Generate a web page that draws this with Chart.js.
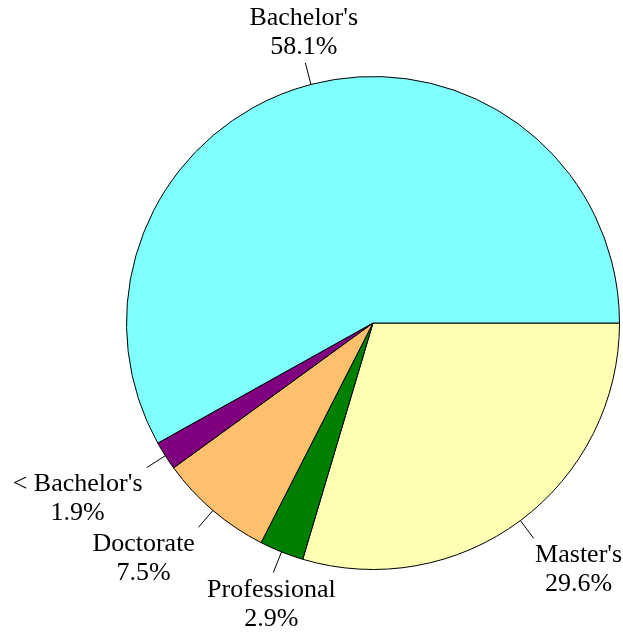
<!DOCTYPE html>
<html>
<head>
<meta charset="utf-8">
<script src="https://cdn.jsdelivr.net/npm/chart.js@4/dist/chart.umd.min.js"></script>
<style>
  html, body { margin: 0; padding: 0; background: #fff; }
  #wrap { width: 623px; height: 633px; }
</style>
</head>
<body>
<div id="wrap"><canvas id="degreePie"></canvas></div>
<script>
// slices in counter-clockwise order starting at 3 o'clock
var categories = ["Bachelor's", "< Bachelor's", "Doctorate", "Professional", "Master's"];
var shares = [58.1, 1.9, 7.5, 2.9, 29.6];
var sliceColors = ["#80FFFF", "#800080", "#FFC06E", "#008000", "#FFFFB3"];

// chart.js goes clockwise, so flip the order
var cats = categories.slice().reverse();
var vals = shares.slice().reverse();
var cols = sliceColors.slice().reverse();

var outerLabels = {
    id: "outerLabels",
    afterDatasetsDraw: function (chart) {
        var ctx = chart.ctx;
        var meta = chart.getDatasetMeta(0);
        ctx.save();
        ctx.font = "26px 'Liberation Serif', 'Times New Roman', serif";
        ctx.fillStyle = "#000";
        ctx.strokeStyle = "#000";
        ctx.lineWidth = 1;
        ctx.textBaseline = "middle";
        meta.data.forEach(function (arc, i) {
            var mid = (arc.startAngle + arc.endAngle) / 2;
            var c = Math.cos(mid), s = Math.sin(mid);
            var r = arc.outerRadius;
            ctx.beginPath();
            ctx.moveTo(arc.x + c * r, arc.y + s * r);
            ctx.lineTo(arc.x + c * r * 1.09, arc.y + s * r * 1.09);
            ctx.stroke();

            var ax = arc.x + c * r * 1.1;
            var ay = arc.y + s * r * 1.1;
            var lines = [cats[i], vals[i].toFixed(1) + "%"];
            var w = Math.max(ctx.measureText(lines[0]).width, ctx.measureText(lines[1]).width);
            var cx;
            if (Math.abs(c) < 0.4) cx = ax - 1;
            else if (c > 0) cx = ax + w / 2;
            else cx = ax - w / 2 - 2;
            var y1 = s < 0 ? ay - 42 : ay + 15;
            ctx.textAlign = "center";
            ctx.fillText(lines[0], cx, y1);
            ctx.fillText(lines[1], cx, y1 + 29);
        });
        ctx.restore();
    }
};

new Chart("degreePie", {
    type: "pie",
    data: {
        labels: cats,
        datasets: [{
            data: vals,
            backgroundColor: cols,
            borderColor: "#000",
            borderWidth: 1
        }]
    },
    options: {
        responsive: true,
        maintainAspectRatio: false,
        animation: false,
        rotation: 90,
        layout: { padding: { left: 126, right: 3, top: 76, bottom: 63 } },
        plugins: {
            legend: { display: false },
            tooltip: { enabled: false }
        }
    },
    plugins: [outerLabels]
});
</script>
</body>
</html>
